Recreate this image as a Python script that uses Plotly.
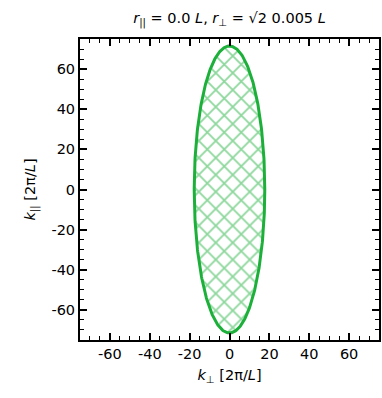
import numpy as np
import plotly.graph_objects as go

# Ellipse parameters (in units of 2pi/L)
k_perp_semi = 17.7
k_par_semi = 71.5
tick_vals = [-60, -40, -20, 0, 20, 40, 60]
tick_text = ["-60", "-40", "-20", "0", "20", "40", "60"]
axis_range = [-75, 75]

t = np.linspace(0, 2 * np.pi, 400)
x = k_perp_semi * np.cos(t)
y = k_par_semi * np.sin(t)

green = "#1cb03a"
fig = go.Figure()
fig.add_trace(go.Scatter(
    x=x, y=y, mode="lines", fill="toself",
    line=dict(color=green, width=3),
    fillcolor="rgba(0,0,0,0)",
    fillpattern=dict(shape="x", fgcolor=green, bgcolor="white", size=12, solidity=0.28),
    showlegend=False, hoverinfo="skip",
))

font = dict(family="DejaVu Sans", size=14.5, color="black")
axis_common = dict(
    range=axis_range, tickvals=tick_vals, ticktext=tick_text,
    ticks="inside", ticklen=7, tickwidth=1.5, tickcolor="black",
    showline=True, linecolor="black", linewidth=2, mirror="ticks",
    showgrid=False, zeroline=False, tickfont=font,
    minor=dict(dtick=5, tick0=0, ticks="inside", ticklen=4, tickwidth=1.2, tickcolor="black", showgrid=False),
)
fig.update_layout(
    width=382, height=398,
    margin=dict(l=80, r=1, t=39, b=58),
    paper_bgcolor="white", plot_bgcolor="white",
    font=font,
    title=dict(text="<i>r</i><sub>||</sub> = 0.0 <i>L</i>, <i>r</i><sub>⊥</sub> = √2 0.005 <i>L</i>",
               x=0.5, xanchor="center", xref="paper", y=0.955, yanchor="middle",
               font=dict(family="DejaVu Sans", size=14.5)),
    xaxis=dict(**axis_common, title=dict(text="<i>k</i><sub>⊥</sub> [2π/<i>L</i>]", standoff=8, font=font)),
    yaxis=dict(**axis_common, title=dict(text="<i>k</i><sub>||</sub> [2π/<i>L</i>]", standoff=12, font=font)),
)
fig.write_html("out.html")
